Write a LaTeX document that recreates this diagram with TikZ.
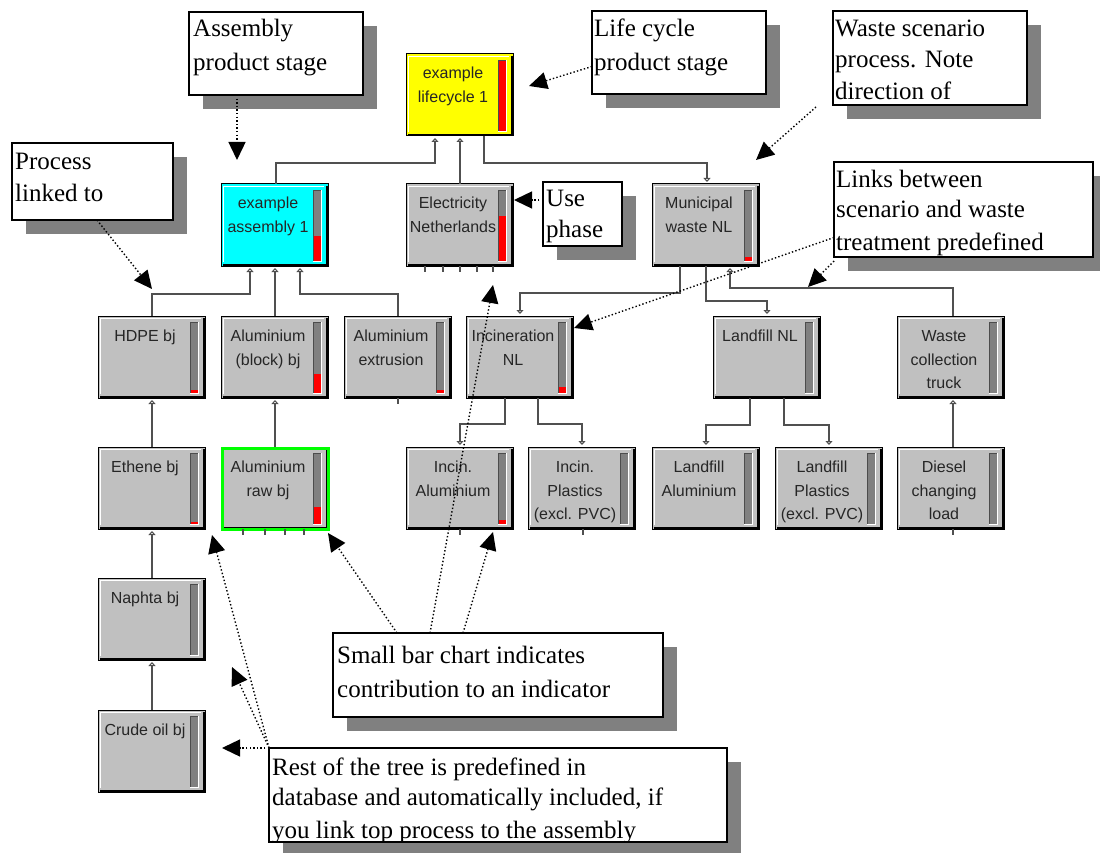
\documentclass[tikz,border=0pt]{standalone}
\usepackage{fontspec}
\setmainfont{Liberation Serif}
\newfontfamily\boxfont{Liberation Sans}
\usetikzlibrary{arrows.meta,shadows}
\definecolor{boxgray}{HTML}{C0C0C0}
\definecolor{bargray}{HTML}{808080}
\definecolor{shadowgray}{HTML}{808080}
\definecolor{linegray}{HTML}{505050}
\definecolor{lcyellow}{HTML}{FFFF00}
\definecolor{asmcyan}{HTML}{00FFFF}
\definecolor{selgreen}{HTML}{00FF00}
% process box: name, x, y (top-left), fill, red height, line1, line2, line3
\newcommand\pbox[8]{%
  \node[pbx, fill=#4] (#1) at (#2+53.5,#3+41) {};
  \draw[line width=2.5pt] (#2+106,#3+2) -- (#2+106,#3+81) -- (#2+2,#3+81);
  \draw[white, line width=1pt] (#2+2.5,#3+78) -- (#2+2.5,#3+2.5) -- (#2+103,#3+2.5);
  \fill[bargray] (#2+92,#3+6) rectangle (#2+100,#3+77);
  \ifnum#5>0 \fill[red] (#2+92,#3+77-#5) rectangle (#2+100,#3+77);\fi
  \draw[black!70, line width=0.6pt] (#2+92,#3+77) -- (#2+92,#3+6) -- (#2+100,#3+6);
  \draw[white, line width=0.6pt] (#2+100,#3+6) -- (#2+100,#3+77) -- (#2+92,#3+77);
  \node[ptxt] (#1-a) at (#2+47,#3+19) {#6};
  \if\relax\detokenize{#7}\relax\else\node[ptxt] (#1-b) at (#2+47,#3+43) {#7};\fi
  \if\relax\detokenize{#8}\relax\else\node[ptxt] (#1-c) at (#2+47,#3+66) {#8};\fi
}
\newcommand\ctext[4]{\node[ctxt] (#1) at (#2,#3) {#4};}
\begin{document}
\begin{tikzpicture}[x=1pt,y=-1pt,
  pbx/.style={rectangle, draw=black, line width=1pt, minimum width=107pt, minimum height=82pt, inner sep=0pt, outer sep=0pt},
  ptxt/.style={font={\boxfont\fontsize{16}{18}\selectfont}, text=black!85, inner sep=0pt, text height=12pt, text depth=0pt, anchor=center},
  ctxt/.style={font={\fontsize{25}{30}\selectfont}, text=black, inner sep=0pt, anchor=base west},
  callout/.style={rectangle, draw=black, line width=1.3pt, fill=white, inner sep=0pt, outer sep=0pt,
     drop shadow={shadow xshift=14pt, shadow yshift=-14pt, fill=shadowgray, opacity=1}},
  conn/.style={draw=linegray, line width=1.5pt, -{Triangle[open,length=4pt,width=7pt,line width=1pt]}, shorten >=2pt},
  ann/.style={draw=black, line width=1.4pt, dash pattern=on 1.4pt off 2.2pt, -{Triangle[length=18pt,width=17pt]}},
  tick/.style={draw=linegray, line width=1.2pt}]
\fill[white] (0,0) rectangle (1100,853);
\useasboundingbox (0,0) rectangle (1100,853);

% process boxes
\pbox{lc}{406}{54}{lcyellow}{71}{example}{lifecycle 1}{}
\pbox{asm}{221}{184}{asmcyan}{25}{example}{assembly 1}{}
\pbox{elec}{406}{184}{boxgray}{45}{Electricity}{Netherlands}{}
\pbox{mun}{652}{184}{boxgray}{4}{Municipal}{waste NL}{}
\pbox{hdpe}{98}{316}{boxgray}{3}{HDPE bj}{}{}
\pbox{alb}{221}{316}{boxgray}{19}{Aluminium}{(block) bj}{}
\pbox{alx}{344}{316}{boxgray}{3}{Aluminium}{extrusion}{}
\pbox{inc}{466}{316}{boxgray}{6}{Incineration}{NL}{}
\pbox{lfn}{713}{316}{boxgray}{0}{Landfill NL}{}{}
\pbox{wct}{897}{316}{boxgray}{0}{Waste}{collection}{truck}
\pbox{eth}{98}{447}{boxgray}{2}{Ethene bj}{}{}
\pbox{alr}{221}{447}{boxgray}{17}{Aluminium}{raw bj}{}
\pbox{inca}{406}{447}{boxgray}{4}{Incin.}{Aluminium}{}
\pbox{incp}{528}{447}{boxgray}{0}{Incin.}{Plastics}{(excl. PVC)}
\pbox{lfa}{652}{447}{boxgray}{0}{Landfill}{Aluminium}{}
\pbox{lfp}{775}{447}{boxgray}{0}{Landfill}{Plastics}{(excl. PVC)}
\pbox{dsl}{897}{447}{boxgray}{0}{Diesel}{changing}{load}
\pbox{nap}{98}{578}{boxgray}{0}{Naphta bj}{}{}
\pbox{crd}{98}{710}{boxgray}{0}{Crude oil bj}{}{}
\draw[selgreen, line width=3pt] ([shift={(1.5pt,-1.5pt)}]alr.north west) rectangle ([shift={(0pt,0pt)}]alr.south east);

% small stubs below boxes
\foreach \tx in {-34.5,-16.5,0.5,17.5,33.5} \draw[tick] ([xshift=\tx pt]elec.south) -- ++(0,6);
\foreach \tx in {-31.5,-9.5,10.5,29.5} \draw[tick] ([xshift=\tx pt]alr.south) -- ++(0,6);
\draw[tick] ([xshift=0.5pt]alx.south) -- ++(0,6);
\draw[tick] ([xshift=0.5pt]inca.south) -- ++(0,6);
\draw[tick] ([xshift=1.5pt]incp.south) -- ++(0,6);
\draw[tick] ([xshift=2.5pt]dsl.south) -- ++(0,6);

% tree connectors
\draw[conn] ([xshift=1.5pt]asm.north) |- (435,163) -- ([xshift=-24.5pt]lc.south);
\draw[conn] ([xshift=0.5pt]elec.north) -- ([xshift=0.5pt]lc.south);
\draw[conn] ([xshift=24.5pt]lc.south) |- (707,163) -- ([xshift=1.5pt]mun.north);
\draw[conn] ([xshift=0.5pt]hdpe.north) |- (250,294) -- ([xshift=-24.5pt]asm.south);
\draw[conn] ([xshift=0.5pt]alb.north) -- ([xshift=0.5pt]asm.south);
\draw[conn] ([xshift=0.5pt]alx.north) |- (300,294) -- ([xshift=25.5pt]asm.south);
\draw[conn] ([xshift=0.5pt]eth.north) -- ([xshift=0.5pt]hdpe.south);
\draw[conn] ([xshift=0.5pt]alr.north) -- ([xshift=0.5pt]alb.south);
\draw[conn] ([xshift=0.5pt]nap.north) -- ([xshift=0.5pt]eth.south);
\draw[conn] ([xshift=0.5pt]crd.north) -- ([xshift=0.5pt]nap.south);
\draw[conn] ([xshift=-25.5pt]mun.south) |- (520,293) -- ([xshift=0.5pt]inc.north);
\draw[conn] ([xshift=0.5pt]mun.south) |- (767,301) -- ([xshift=0.5pt]lfn.north);
\draw[conn] ([xshift=2.5pt]wct.north) |- (730,288) -- ([xshift=24.5pt]mun.south);
\draw[conn] ([xshift=-14.5pt]inc.south) |- (460,424) -- ([xshift=0.5pt]inca.north);
\draw[conn] ([xshift=18.5pt]inc.south) |- (582,424) -- ([xshift=0.5pt]incp.north);
\draw[conn] ([xshift=-16.5pt]lfn.south) |- (706,425) -- ([xshift=0.5pt]lfa.north);
\draw[conn] ([xshift=17.5pt]lfn.south) |- (829,425) -- ([xshift=0.5pt]lfp.north);
\draw[conn] ([xshift=2.5pt]dsl.north) -- ([xshift=2.5pt]wct.south);

% callout boxes
\node[callout, minimum width=174pt, minimum height=83pt] (cAsm) at (276,53.5) {};
\node[callout, minimum width=174pt, minimum height=83pt] (cLc) at (679,52.5) {};
\node[callout, minimum width=194pt, minimum height=94pt] (cWs) at (930,58) {};
\node[callout, minimum width=259pt, minimum height=95pt] (cLk) at (963.5,209.5) {};
\node[callout, minimum width=161pt, minimum height=77pt] (cProc) at (92.5,181.5) {};
\node[callout, minimum width=79pt, minimum height=64pt] (cUse) at (582.5,214) {};
\node[callout, minimum width=330pt, minimum height=84pt] (cBar) at (498,675) {};
\node[callout, minimum width=458pt, minimum height=94pt] (cRest) at (498,795) {};

% callout texts
\begin{scope}\clip ([shift={(1pt,-1pt)}]cAsm.north west) rectangle ([shift={(-1pt,1pt)}]cAsm.south east);
\ctext{cAsm-1}{193}{37}{Assembly}\ctext{cAsm-2}{193}{71}{product stage}
\end{scope}
\begin{scope}\clip ([shift={(1pt,-1pt)}]cLc.north west) rectangle ([shift={(-1pt,1pt)}]cLc.south east);
\ctext{cLc-1}{594}{37}{Life cycle}\ctext{cLc-2}{594}{71}{product stage}
\end{scope}
\begin{scope}\clip ([shift={(1pt,-1pt)}]cWs.north west) rectangle ([shift={(-1pt,1pt)}]cWs.south east);
\ctext{cWs-1}{835}{37}{Waste scenario}\ctext{cWs-2}{835}{68}{process. Note}\ctext{cWs-3}{835}{100}{direction of}
\end{scope}
\begin{scope}\clip ([shift={(1pt,-1pt)}]cLk.north west) rectangle ([shift={(-1pt,1pt)}]cLk.south east);
\ctext{cLk-1}{836}{188}{Links between}\ctext{cLk-2}{836}{218}{scenario and waste}\ctext{cLk-3}{836}{250}{treatment predefined}
\end{scope}
\begin{scope}\clip ([shift={(1pt,-1pt)}]cProc.north west) rectangle ([shift={(-1pt,1pt)}]cProc.south east);
\ctext{cProc-1}{15}{170}{Process}\ctext{cProc-2}{15}{202}{linked to}
\end{scope}
\begin{scope}\clip ([shift={(1pt,-1pt)}]cUse.north west) rectangle ([shift={(-1pt,1pt)}]cUse.south east);
\ctext{cUse-1}{546}{207}{Use}\ctext{cUse-2}{546}{237}{phase}
\end{scope}
\begin{scope}\clip ([shift={(1pt,-1pt)}]cBar.north west) rectangle ([shift={(-1pt,1pt)}]cBar.south east);
\ctext{cBar-1}{337}{663}{Small bar chart indicates}\ctext{cBar-2}{337}{697}{contribution to an indicator}
\end{scope}
\begin{scope}\clip ([shift={(1pt,-1pt)}]cRest.north west) rectangle ([shift={(-1pt,1pt)}]cRest.south east);
\ctext{cRest-1}{272}{775}{Rest of the tree is predefined in}\ctext{cRest-2}{272}{805}{database and automatically included, if}\ctext{cRest-3}{272}{838}{you link top process to the assembly}
\end{scope}

% annotation arrows
\coordinate (tAsm) at (237,160);
\coordinate (tLc) at (529,86);
\coordinate (tWs) at (756,160);
\coordinate (tUse) at (514,200);
\coordinate (tLk1) at (574,328);
\coordinate (tLk2) at (808,287);
\coordinate (tProc) at (152,289);
\coordinate (tBar1) at (328,533);
\coordinate (tBar2) at (493,285);
\coordinate (tBar3) at (493,532);
\coordinate (tRest1) at (212,535);
\coordinate (tRest2) at (232,667);
\coordinate (tRest3) at (222,748);
\draw[ann] (cAsm.south -| tAsm) -- (tAsm);
\draw[ann] ([yshift=-14pt]cLc.west) -- (tLc);
\draw[ann] ([xshift=-17pt,yshift=-2pt]cWs.south west) -- (tWs);
\draw[ann] ([yshift=14pt]cUse.west) -- (tUse);
\draw[ann] ([yshift=-28pt]cLk.west) -- (tLk1);
\draw[ann] ([yshift=-4pt]cLk.south west) -- (tLk2);
\draw[ann] ([xshift=85pt]cProc.south west) -- (tProc);
\draw[ann] ([xshift=64pt]cBar.north west) -- (tBar1);
\draw[ann] ([xshift=97pt]cBar.north west) -- (tBar2);
\draw[ann] ([xshift=130pt]cBar.north west) -- (tBar3);
\draw[ann] (cRest.north west) -- (tRest1);
\draw[ann] (cRest.north west) -- (tRest2);
\draw[ann] (cRest.north west) -- (tRest3);
\end{tikzpicture}
\end{document}
